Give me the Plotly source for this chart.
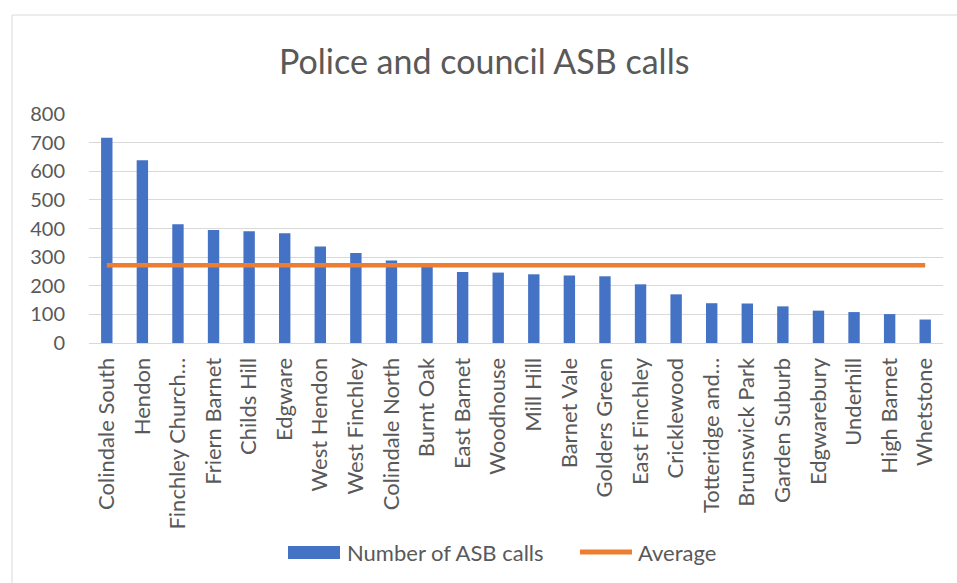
import plotly.graph_objects as go

# Wards and number of ASB calls (police and council)
wards = [
    "Colindale South", "Hendon", "Finchley Church End", "Friern Barnet",
    "Childs Hill", "Edgware", "West Hendon", "West Finchley",
    "Colindale North", "Burnt Oak", "East Barnet", "Woodhouse",
    "Mill Hill", "Barnet Vale", "Golders Green", "East Finchley",
    "Cricklewood", "Totteridge and Woodside", "Brunswick Park",
    "Garden Suburb", "Edgwarebury", "Underhill", "High Barnet", "Whetstone",
]
ward_labels = [
    "Colindale South", "Hendon", "Finchley Church…", "Friern Barnet",
    "Childs Hill", "Edgware", "West Hendon", "West Finchley",
    "Colindale North", "Burnt Oak", "East Barnet", "Woodhouse",
    "Mill Hill", "Barnet Vale", "Golders Green", "East Finchley",
    "Cricklewood", "Totteridge and…", "Brunswick Park",
    "Garden Suburb", "Edgwarebury", "Underhill", "High Barnet", "Whetstone",
]
asb_calls = [717, 638, 415, 395, 390, 383, 337, 314, 288, 270, 248, 246,
             240, 236, 233, 205, 170, 139, 138, 128, 113, 108, 101, 82]
average_value = 272
average = [average_value] * len(wards)

y_ticks = [0, 100, 200, 300, 400, 500, 600, 700, 800]

FONT = "Lato, 'Open Sans', sans-serif"
TEXT = "#595959"
BLUE = "#4472C4"
ORANGE = "#ED7D31"

W, H = 957, 583
L, R, T, B = 89, 14, 114, 240
PW, PH = W - L - R, H - T - B


def px_x(x):
    return (x - L) / PW


def px_y(y):
    return (H - B - y) / PH


fig = go.Figure()
fig.add_trace(go.Bar(
    x=wards, y=asb_calls, name="Number of ASB calls",
    marker=dict(color=BLUE, line=dict(width=0)),
))
fig.add_trace(go.Scatter(
    x=wards, y=average, name="Average", mode="lines",
    line=dict(color=ORANGE, width=4.5),
))

fig.update_layout(
    width=W, height=H,
    margin=dict(l=L, r=R, t=T, b=B),
    paper_bgcolor="white", plot_bgcolor="white",
    bargap=0.68,
    showlegend=False,
    font=dict(family=FONT, color=TEXT, size=20),
    title=dict(
        text="Police and council ASB calls",
        x=0.506, xanchor="center", y=0.893, yanchor="middle",
        font=dict(family=FONT, size=34, color=TEXT),
    ),
    xaxis=dict(
        type="category",
        tickmode="array", tickvals=wards, ticktext=ward_labels,
        tickangle=-90, tickfont=dict(size=22, color=TEXT),
        showgrid=False, showline=True, linecolor="#D9D9D9", linewidth=1,
        ticks="", range=[-0.5, len(wards) - 0.5], ticklabelstandoff=5,
    ),
    yaxis=dict(
        range=[0, 800], tickvals=y_ticks,
        showgrid=True, gridcolor="#D9D9D9", gridwidth=1,
        zeroline=False, showline=False, ticks="",
        tickfont=dict(size=20, color=TEXT), ticklabelstandoff=23,
    ),
)

# Legend drawn as a key row beneath the category labels
legend_y = 552
fig.add_shape(
    type="rect", xref="paper", yref="paper",
    x0=px_x(288), x1=px_x(340), y0=px_y(559), y1=px_y(546),
    line=dict(width=0), fillcolor=BLUE,
)
fig.add_annotation(
    xref="paper", yref="paper", x=px_x(345), y=px_y(legend_y),
    xanchor="left", yanchor="middle", showarrow=False,
    text="Number of ASB calls", font=dict(size=22, color=TEXT, family=FONT),
)
fig.add_shape(
    type="line", xref="paper", yref="paper",
    x0=px_x(580), x1=px_x(632), y0=px_y(legend_y), y1=px_y(legend_y),
    line=dict(color=ORANGE, width=5),
)
fig.add_annotation(
    xref="paper", yref="paper", x=px_x(636), y=px_y(legend_y),
    xanchor="left", yanchor="middle", showarrow=False,
    text="Average", font=dict(size=22, color=TEXT, family=FONT),
)

# Chart frame
fig.add_shape(
    type="rect", xref="paper", yref="paper",
    x0=px_x(12), x1=px_x(975), y0=px_y(600), y1=px_y(15),
    line=dict(color="#D9D9D9", width=1), fillcolor="rgba(0,0,0,0)",
    layer="below",
)

fig.write_html("out.html")
